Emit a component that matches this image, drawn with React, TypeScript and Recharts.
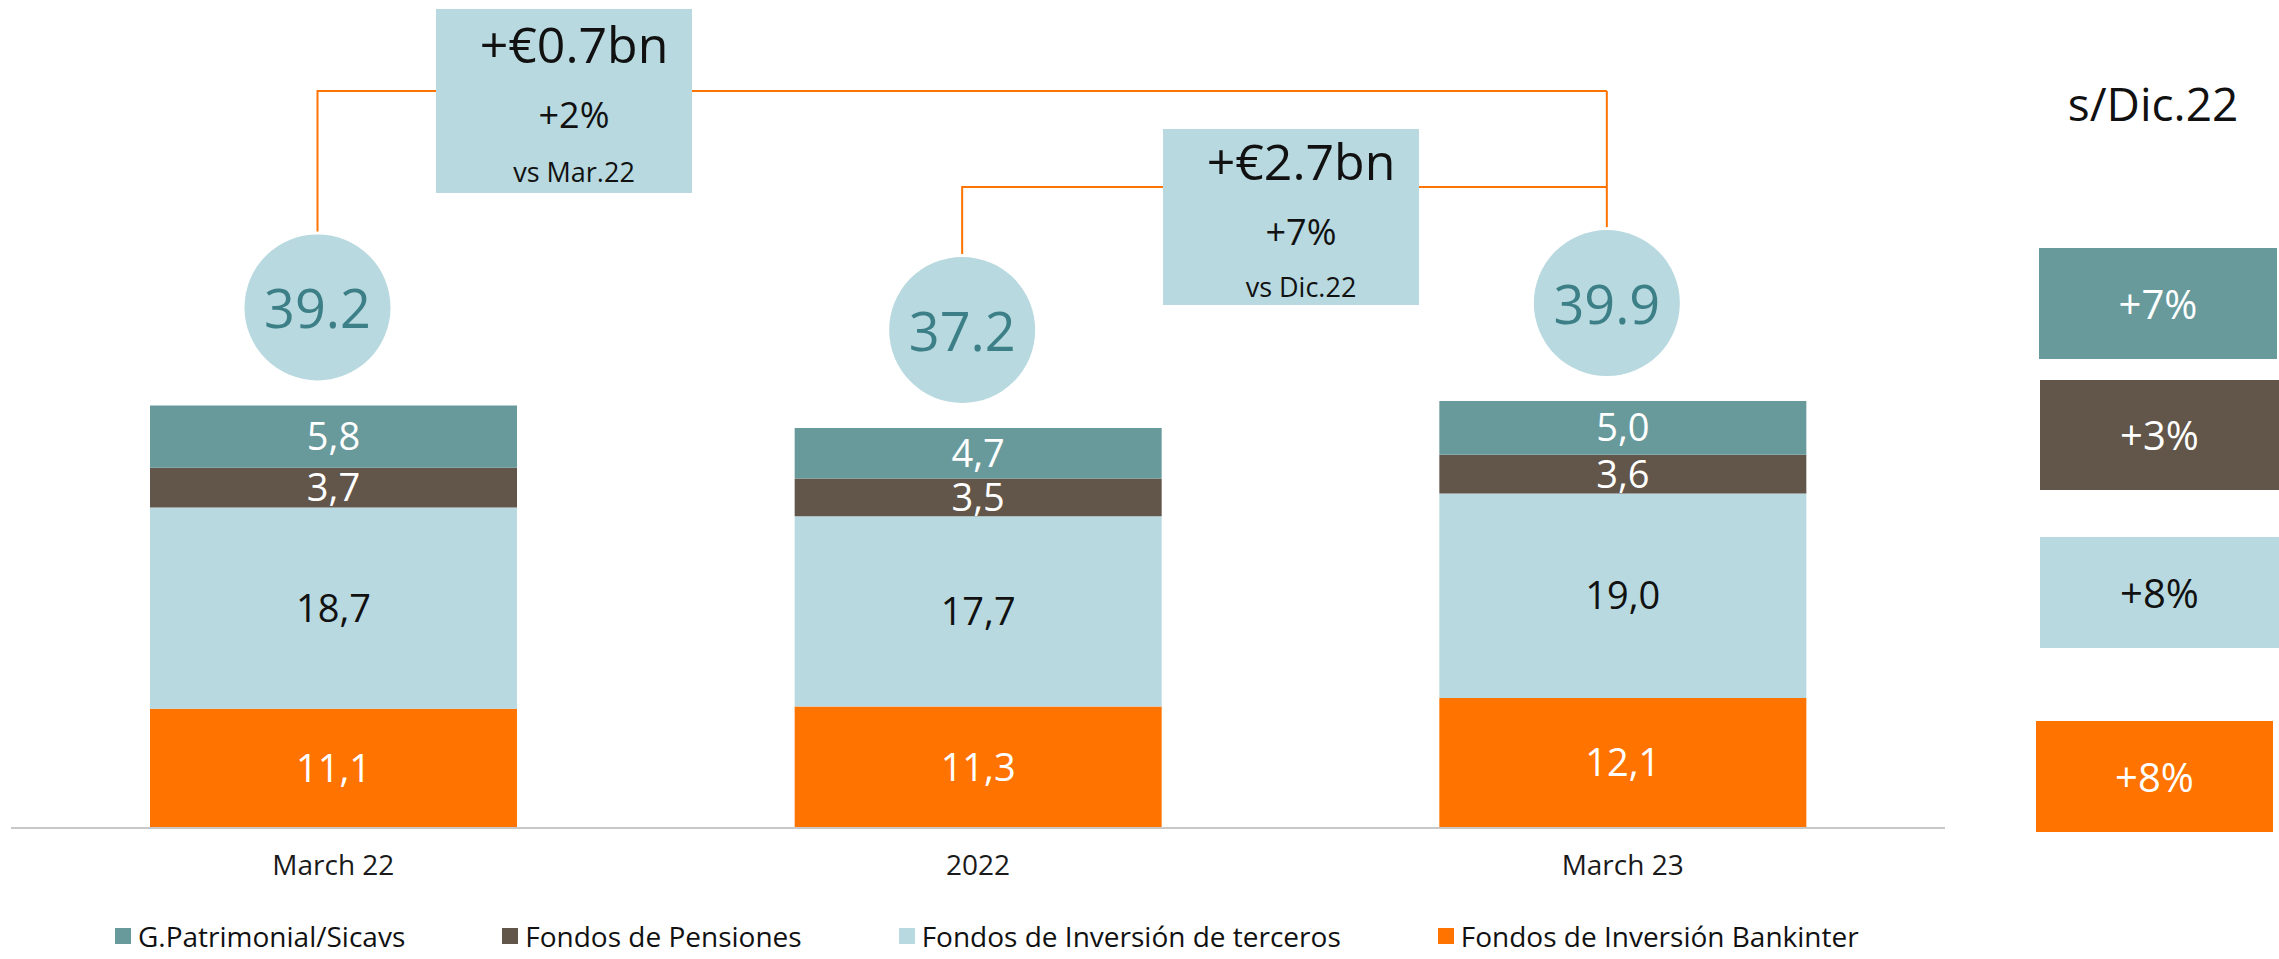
import { Bar, BarChart, LabelList, Legend, XAxis, YAxis } from "recharts";

const categories = ["March 22", "2022", "March 23"];
const bankinterFunds = [11.1, 11.3, 12.1];
const thirdPartyFunds = [18.7, 17.7, 19.0];
const pensionFunds = [3.7, 3.5, 3.6];
const sicavs = [5.8, 4.7, 5.0];
const totals = [39.2, 37.2, 39.9];

const changeAmounts = ["+€0.7bn", "+€2.7bn"];
const changePcts = ["+2%", "+7%"];
const changeRefs = ["vs Mar.22", "vs Dic.22"];

const sinceLabel = "s/Dic.22";
// top to bottom: sicavs, pensiones, terceros, bankinter
const growthSinceDec = ["+7%", "+3%", "+8%", "+8%"];

const series = [
  { key: "sicav", name: "G.Patrimonial/Sicavs", color: "#689a9c", text: "#ffffff" },
  { key: "pension", name: "Fondos de Pensiones", color: "#625549", text: "#ffffff" },
  { key: "third", name: "Fondos de Inversión de terceros", color: "#b7d9df", text: "#111111" },
  { key: "bankinter", name: "Fondos de Inversión Bankinter", color: "#ff7300", text: "#ffffff" },
];

const data = categories.map((name, i) => ({
  name,
  bankinter: bankinterFunds[i],
  third: thirdPartyFunds[i],
  pension: pensionFunds[i],
  sicav: sicavs[i],
}));

const FONT = "'Open Sans', 'Noto Sans', sans-serif";
const W = 2279;
const H = 959;
const MARGIN = { top: 0, right: 334, bottom: 71, left: 11 };
const BAND = (W - MARGIN.left - MARGIN.right) / categories.length;
const ORANGE = "#ff7300";
const BRACKET_TOP = [91, 187];

const fmt = (v: number) => v.toFixed(1).replace(".", ",");

function TotalBubble(props: any) {
  const { x, y, width, index } = props;
  const cx = x + width / 2 - 16;
  const cy = y - 98;
  const r = 73;
  const lines: any[] = [];
  if (index === 0) {
    lines.push(<polyline key="a" points={`${cx},${cy - r - 3} ${cx},${BRACKET_TOP[0]} ${cx + 2 * BAND},${BRACKET_TOP[0]}`} fill="none" stroke={ORANGE} strokeWidth={2} />);
  }
  if (index === 1) {
    lines.push(<polyline key="b" points={`${cx},${cy - r - 3} ${cx},${BRACKET_TOP[1]} ${cx + BAND},${BRACKET_TOP[1]}`} fill="none" stroke={ORANGE} strokeWidth={2} />);
  }
  if (index === 2) {
    lines.push(<line key="c" x1={cx} y1={cy - r - 3} x2={cx} y2={BRACKET_TOP[0]} stroke={ORANGE} strokeWidth={2} />);
  }
  return (
    <g>
      {lines}
      <circle cx={cx} cy={cy} r={r} fill="#b7d9df" />
      <text x={cx} y={cy + 21} textAnchor="middle" fontSize={54} fill="#3d7f87" fontFamily={FONT}>
        {totals[index].toFixed(1)}
      </text>
    </g>
  );
}

function LegendContent() {
  return (
    <div style={{ display: "flex", alignItems: "center", fontFamily: FONT, fontSize: 28, color: "#111" }}>
      {series.map((s) => (
        <div key={s.key} style={{ display: "flex", alignItems: "center", marginRight: 97 }}>
          <span style={{ width: 16, height: 16, background: s.color, marginRight: 7, display: "inline-block" }} />
          <span>{s.name}</span>
        </div>
      ))}
    </div>
  );
}

const rightBoxes = [
  { x: 2039, y: 248, w: 238, h: 111 },
  { x: 2040, y: 380, w: 239, h: 110 },
  { x: 2040, y: 537, w: 239, h: 111 },
  { x: 2036, y: 721, w: 237, h: 111 },
];

const changeBoxes = [
  { x: 436, y: 9, w: 256, h: 184, base: [63, 128, 182] },
  { x: 1163, y: 129, w: 256, h: 176, base: [180, 245, 297] },
];

export default function App() {
  const stackOrder = [...series].reverse();
  return (
    <div style={{ position: "absolute", left: 0, top: 0, width: W, height: H, background: "#fff" }}>
      <BarChart width={W} height={H} data={data} margin={MARGIN}>
        <XAxis
          dataKey="name"
          axisLine={{ stroke: "#c8c8c8", strokeWidth: 2 }}
          tickLine={false}
          tickSize={0}
          tickMargin={27}
          height={60}
          tick={{ fontSize: 28, fill: "#1a1a1a", fontFamily: FONT }}
        />
        <YAxis hide domain={[0, 77]} />
        <Legend
          verticalAlign="middle"
          layout="horizontal"
          content={<LegendContent />}
          wrapperStyle={{ top: 917, left: 115, width: 1900 }}
        />
        {stackOrder.map((s) => (
          <Bar key={s.key} dataKey={s.key} name={s.name} stackId="a" fill={s.color} barSize={367} isAnimationActive={false}>
            <LabelList
              dataKey={s.key}
              position="center"
              formatter={(v: any) => fmt(Number(v))}
              fill={s.text}
              fontSize={38}
              fontFamily={FONT}
            />
            {s.key === "sicav" ? <LabelList dataKey="sicav" content={<TotalBubble />} /> : null}
          </Bar>
        ))}
      </BarChart>
      <svg width={W} height={H} style={{ position: "absolute", left: 0, top: 0, pointerEvents: "none" }}>
        {changeBoxes.map((b, i) => (
          <g key={i}>
            <rect x={b.x} y={b.y} width={b.w} height={b.h} fill="#b7d9df" />
            <text x={b.x + b.w / 2 + 10} y={b.base[0]} textAnchor="middle" fontSize={50} fill="#111" fontFamily={FONT}>
              {changeAmounts[i]}
            </text>
            <text x={b.x + b.w / 2 + 10} y={b.base[1]} textAnchor="middle" fontSize={36} fill="#111" fontFamily={FONT}>
              {changePcts[i]}
            </text>
            <text x={b.x + b.w / 2 + 10} y={b.base[2]} textAnchor="middle" fontSize={27} fill="#111" fontFamily={FONT}>
              {changeRefs[i]}
            </text>
          </g>
        ))}
        <text x={2153} y={121} textAnchor="middle" fontSize={46} fill="#111" fontFamily={FONT}>
          {sinceLabel}
        </text>
        {rightBoxes.map((b, i) => (
          <g key={i}>
            <rect x={b.x} y={b.y} width={b.w} height={b.h} fill={series[i].color} />
            <text x={b.x + b.w / 2} y={b.y + b.h / 2 + 15} textAnchor="middle" fontSize={40} fill={series[i].text} fontFamily={FONT}>
              {growthSinceDec[i]}
            </text>
          </g>
        ))}
      </svg>
    </div>
  );
}
